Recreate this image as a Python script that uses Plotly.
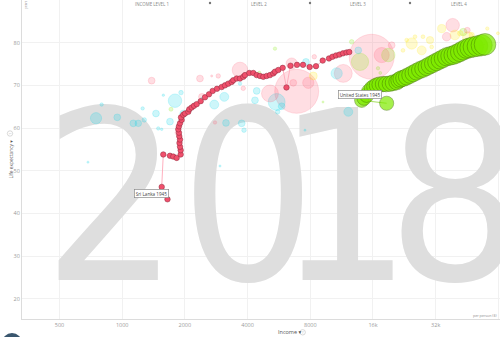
import math
import plotly.graph_objects as go

# ---------------- data ----------------
x_tick_vals = [500, 1000, 2000, 4000, 8000, 16000, 32000, 64000]
x_tick_text = ["500", "1000", "2000", "4000", "8000", "16k", "32k", "64k"]
y_tick_vals = [20, 30, 40, 50, 60, 70, 80]
year_label = "2018"
level_labels = ["INCOME LEVEL 1", "LEVEL 2", "LEVEL 3", "LEVEL 4"]

# Sri Lanka trail 1945 -> 2018
sl_income = [1650, 1548, 1575, 1696, 1759, 1826, 1909, 1909, 1895, 1884,
             1895, 1880, 1873, 1859, 1873, 1895, 1930, 1916, 1965, 2003,
             2077, 2100, 2156, 2212, 2279, 2382, 2498, 2611, 2719, 2852,
             3004, 3116, 3231, 3355, 3415, 3546, 3678, 3814, 3887, 4076,
             4260, 4423, 4589, 4758, 4941, 5124, 5315, 5415, 5617, 5897,
             6148, 6426, 6907, 7381, 7946, 8521, 9176, 9837, 10225, 10630,
             11050, 11490, 11940, 12310]
sl_life = [43.3, 46.2, 53.8, 53.5, 53.3, 53.0, 53.8, 54.8, 55.6, 56.5,
           57.3, 58.1, 58.9, 59.7, 60.4, 61.1, 61.9, 62.5, 63.1, 63.4,
           63.8, 64.4, 64.8, 65.2, 65.6, 66.3, 67.2, 67.9, 68.7, 69.2,
           69.6, 70.0, 70.4, 70.8, 71.2, 71.6, 71.6, 72.0, 72.4, 72.9,
           72.9, 72.4, 72.2, 72.0, 72.2, 72.4, 72.8, 73.2, 73.6, 74.1,
           69.5, 74.6, 74.8, 74.8, 74.3, 74.5, 75.8, 76.3, 76.7, 77.0,
           77.2, 77.5, 77.7, 77.8]

# United States trail 1945 -> 2018
us_income = [18610, 14120, 14500, 14920, 15300, 15770, 16200, 16670, 17200, 17870,
             18500, 19300, 20000, 20800, 21300, 21810, 22500, 23220, 24100, 25000,
             25900, 26900, 27900, 28960, 30000, 31160, 32300, 33560, 34800, 36130,
             37500, 38880, 40300, 41870, 43400, 45070, 46700, 48500, 50800, 53200,
             55200]
us_life = [65.8, 66.5, 67.0, 67.7, 68.6, 69.3, 69.7, 70.0, 70.2, 70.3,
           70.3, 70.4, 70.6, 70.8, 71.2, 71.5, 71.7, 72.0, 72.4, 72.8,
           73.2, 73.6, 73.9, 74.3, 74.7, 75.1, 75.5, 75.9, 76.3, 76.7,
           76.9, 77.1, 77.4, 77.8, 78.2, 78.6, 78.8, 79.0, 79.2, 79.4,
           79.6]
us_pop = [140, 141, 144, 147, 150, 153, 156, 159, 162, 165,
          168, 171, 175, 178, 181, 184, 187, 190, 193, 196,
          199, 202, 205, 208, 212, 216, 220, 224, 229, 234,
          239, 244, 250, 256, 263, 270, 280, 290, 300, 312,
          327]

# other countries, 2018 (faded)
bg_income = [749, 797, 947, 1131, 1195, 1277, 1254, 1453, 1490, 1548,
             1696, 1793, 1916, 1965, 2768, 3092, 3150, 3747, 3844, 4423,
             4341, 5518, 5831, 5579, 2948, 7628, 10710, 12180, 13600, 3678,
             685, 7543, 2408, 1576,
             1385, 2690, 2893, 2363, 2790, 3678, 3814, 5124, 6513, 8364,
             7825, 6629, 6883, 15770, 11520, 17620, 19670, 38610, 36130, 45380,
             1839, 2416,
             1715, 4552, 5415, 13860, 12640, 9207, 43410, 16910, 17340, 18950,
             8271, 24540, 27420, 27800, 25460, 23220, 34200, 39600, 42000, 47640,
             56600, 63700, 30610, 22290, 30050, 45730]
bg_life = [62.3, 65.5, 62.5, 61.1, 61.1, 61.9, 64.6, 63.4, 59.9, 59.7,
           61.5, 66.4, 68.3, 63.4, 65.5, 67.3, 61.2, 61.1, 59.5, 68.7,
           66.5, 66.1, 65.1, 63.8, 51.1, 75.5, 72.8, 63.8, 78.2, 70.4,
           52.0, 59.5, 66.9, 67.7,
           71.1, 72.2, 72.2, 71.6, 61.3, 73.6, 69.3, 68.1, 75.1, 76.7,
           70.6, 70.6, 68.6, 76.7, 72.8, 77.1, 79.4, 84.1, 81.4, 82.9,
           58.9, 67.3,
           64.4, 73.0, 78.6, 75.5, 80.2, 66.1, 82.5, 74.0, 72.9, 77.1,
           72.2, 79.8, 78.2, 81.4, 81.4, 80.6, 83.3, 81.8, 82.2, 81.8,
           83.3, 82.2, 79.0, 78.2, 80.6, 81.3]
bg_pop = [88, 8, 32, 32, 30, 14, 8, 32, 8, 4,
          32, 127, 14, 32, 56, 56, 32, 32, 14, 32,
          32, 200, 32, 14, 3, 32, 88, 56, 32, 8,
          3, 3, 3, 4,
          32, 3, 14, 32, 8, 170, 14, 200, 88, 14,
          88, 32, 1350, 1415, 225, 160, 32, 127, 51, 24,
          14, 32,
          11, 6, 8, 209, 14, 3, 37, 8, 6, 126,
          44, 88, 56, 10, 10, 10, 47, 66, 20, 20,
          8, 6, 10, 10, 38, 83]
bg_region = (["africa"] * 34 + ["asia"] * 22 + ["americas"] * 10 + ["europe"] * 16)

region_rgb = {"africa": (0, 213, 233), "americas": (127, 235, 0),
              "asia": (255, 88, 114), "europe": (255, 231, 0)}

# ---------------- geometry helpers (layout only) ----------------
W, H = 500, 337
ML, MR, MT, MB = 22, 0, 0, 18
PW, PH = W - ML - MR, H - MT - MB
X_RANGE = [math.log10(330.4), math.log10(65150)]
Y_RANGE = [15.25, 90.0]


def paper_x(px):
    return (px - ML) / PW


def paper_y(py):
    return (H - MB - py) / PH


def data_x(px):
    return X_RANGE[0] + (px - ML) / PW * (X_RANGE[1] - X_RANGE[0])


def data_y(py):
    return Y_RANGE[1] - (py - MT) / PH * (Y_RANGE[1] - Y_RANGE[0])


SIZEREF = 1.4
FONT = "Open Sans, DejaVu Sans, sans-serif"

fig = go.Figure()

# watermark year (drawn first so it sits beneath the bubbles)
digit_px = [111, 248, 344, 455]
fig.add_trace(go.Scatter(
    x=[10 ** data_x(p) for p in digit_px], y=[data_y(220)] * 4,
    mode="text", text=list(year_label), textposition="middle center",
    textfont=dict(family="Liberation Sans Narrow, DejaVu Sans Condensed, Roboto, sans-serif",
                  size=238, color="rgb(222,222,222)"),
    cliponaxis=False, hoverinfo="skip", showlegend=False))

# background bubbles, largest first
order = sorted(range(len(bg_pop)), key=lambda i: -bg_pop[i])
fills = ["rgba(%d,%d,%d,0.28)" % region_rgb[bg_region[i]] for i in order]
lines = ["rgba(%d,%d,%d,0.45)" % region_rgb[bg_region[i]] for i in order]
fig.add_trace(go.Scatter(
    x=[bg_income[i] for i in order], y=[bg_life[i] for i in order],
    mode="markers",
    marker=dict(size=[bg_pop[i] for i in order], sizemode="area", sizeref=SIZEREF,
                color=fills, line=dict(color=lines, width=0.6)),
    hoverinfo="skip", showlegend=False))

# Sri Lanka trail
fig.add_trace(go.Scatter(x=sl_income, y=sl_life, mode="lines",
                         line=dict(color="#ffb0bf", width=1),
                         hoverinfo="skip", showlegend=False))
fig.add_trace(go.Scatter(x=sl_income, y=sl_life, mode="markers",
                         marker=dict(size=5.5, color="#f0506c",
                                     line=dict(color="#8c2a3c", width=0.5)),
                         hoverinfo="skip", showlegend=False))

# United States trail
fig.add_trace(go.Scatter(x=us_income, y=us_life, mode="lines",
                         line=dict(color="#a8e060", width=1),
                         hoverinfo="skip", showlegend=False))
fig.add_trace(go.Scatter(x=us_income, y=us_life, mode="markers",
                         marker=dict(size=us_pop, sizemode="area", sizeref=SIZEREF,
                                     color="#7feb00",
                                     line=dict(color="#3c6b00", width=0.6)),
                         hoverinfo="skip", showlegend=False))

small = dict(family=FONT, size=5.5, color="#9a9a9a")
annotations = []
# trail labels
for xv, yv, txt, xs, ys in [(sl_income[0], sl_life[0], "Sri Lanka 1945", 2, 1),
                            (us_income[0], us_life[0], "United States 1945", -5, 4)]:
    annotations.append(dict(x=math.log10(xv), y=yv, xref="x", yref="y", text=txt,
                             showarrow=False, xanchor="right", yanchor="bottom",
                             xshift=xs, yshift=ys,
                             font=dict(family=FONT, size=4.6, color="#444"),
                             bgcolor="white", bordercolor="#8a8a8a", borderwidth=0.7,
                             borderpad=1))
# income level labels
for txt, cx in zip(level_labels, [152, 259, 358, 459]):
    annotations.append(dict(x=paper_x(cx), y=paper_y(4), xref="paper", yref="paper",
                            text=txt, showarrow=False, xanchor="center", yanchor="middle",
                            font=dict(family=FONT, size=4.4, color="#888")))
# axis titles
annotations.append(dict(x=paper_x(276), y=paper_y(332), xref="paper", yref="paper",
                        text="Income ▾", showarrow=False,
                        xanchor="left", yanchor="middle",
                        font=dict(family=FONT, size=5.5, color="#555555")))
annotations.append(dict(x=paper_x(10), y=paper_y(138), xref="paper", yref="paper",
                        text="Life expectancy ▾",
                        showarrow=False, textangle=-90, xanchor="center", yanchor="top",
                        font=dict(family=FONT, size=4.8, color="#555555")))
for cx, cy in [(302.7, 332.3), (10, 133.5)]:
    annotations.append(dict(x=paper_x(cx), y=paper_y(cy), xref="paper", yref="paper",
                            text="?", showarrow=False, xanchor="center", yanchor="middle",
                            textangle=0 if cx > 100 else -90,
                            font=dict(family=FONT, size=3.6, color="#bbb")))
annotations.append(dict(x=paper_x(499), y=paper_y(315.5), xref="paper", yref="paper",
                        text="per person ($)", showarrow=False, xanchor="right",
                        yanchor="middle", font=dict(family=FONT, size=3.6, color="#888")))
annotations.append(dict(x=paper_x(25.7), y=paper_y(5), xref="paper", yref="paper",
                        text="years", showarrow=False, textangle=-90, xanchor="center",
                        yanchor="middle", font=dict(family=FONT, size=3.2, color="#888")))

shapes = []
for cx in [210, 310, 410]:
    shapes.append(dict(type="circle", xref="paper", yref="paper",
                       x0=paper_x(cx - 1.2), x1=paper_x(cx + 1.2),
                       y0=paper_y(3 + 1.2), y1=paper_y(3 - 1.2),
                       fillcolor="#777", line=dict(width=0)))
for cx, cy in [(302.7, 332.3), (10, 133.5)]:
    shapes.append(dict(type="circle", xref="paper", yref="paper",
                       x0=paper_x(cx - 2.7), x1=paper_x(cx + 2.7),
                       y0=paper_y(cy + 2.7), y1=paper_y(cy - 2.7),
                       line=dict(color="#c8c8c8", width=0.7)))
# play button, mostly cut off at the bottom
shapes.append(dict(type="circle", xref="paper", yref="paper",
                   x0=paper_x(2), x1=paper_x(22), y0=paper_y(353), y1=paper_y(333),
                   fillcolor="#3a566e", line=dict(width=0)))

fig.update_layout(
    width=W, height=H, margin=dict(l=ML, r=MR, t=MT, b=MB),
    paper_bgcolor="white", plot_bgcolor="white",
    showlegend=False, hovermode=False,
    annotations=annotations, shapes=shapes,
    xaxis=dict(type="log", range=X_RANGE, tickvals=x_tick_vals, ticktext=x_tick_text,
               tickfont=small, showgrid=True, gridcolor="#f1f1f1", gridwidth=1,
               showline=True, linecolor="#dcdcdc", linewidth=1, zeroline=False,
               ticks="", fixedrange=True),
    yaxis=dict(range=Y_RANGE, tickvals=y_tick_vals, tickfont=small, showgrid=True,
               gridcolor="#f1f1f1", gridwidth=1, showline=True, linecolor="#dcdcdc",
               linewidth=1, zeroline=False, ticks="", fixedrange=True),
)

fig.write_html("out.html", config={"displayModeBar": False})
